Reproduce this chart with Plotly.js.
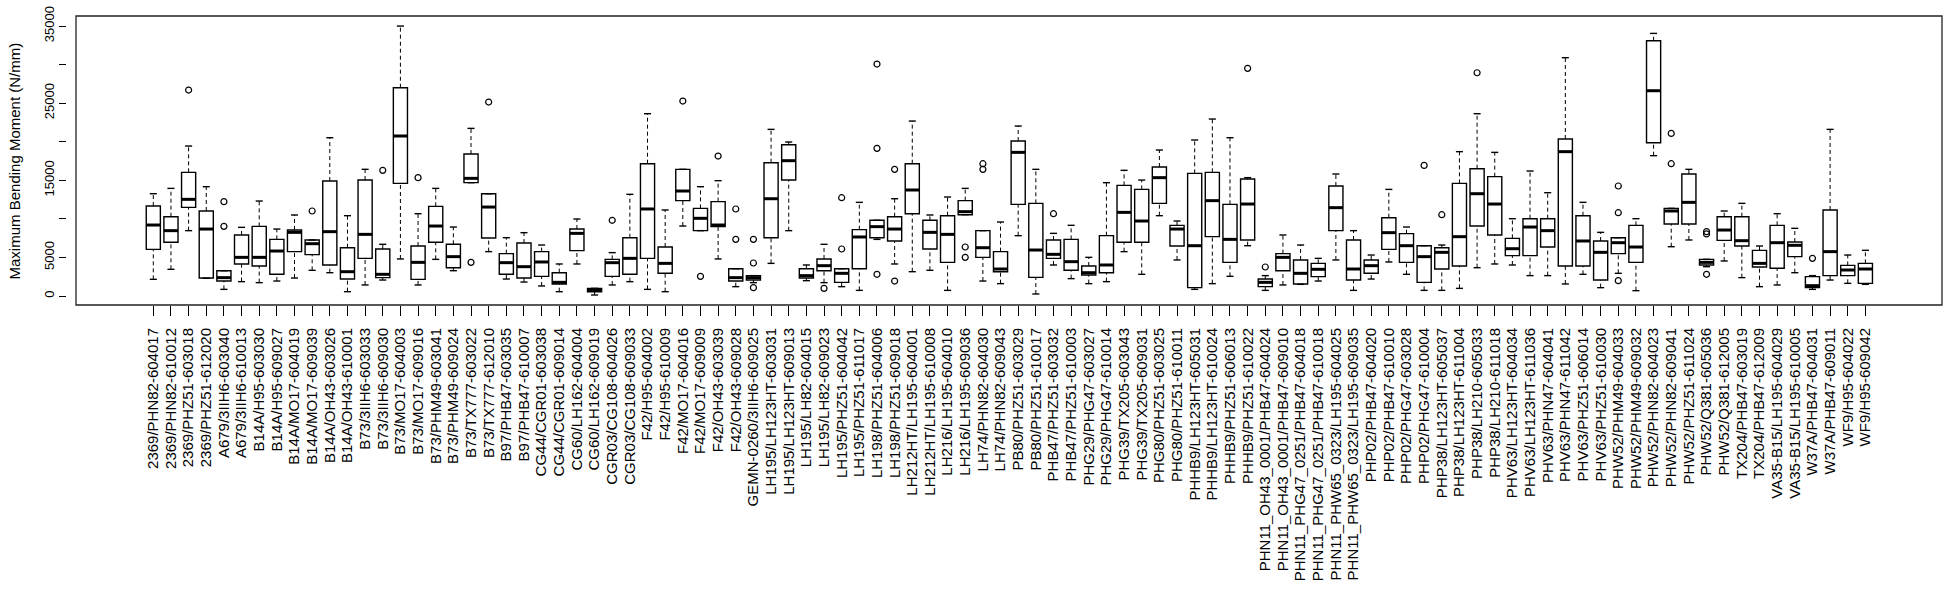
<!DOCTYPE html>
<html><head><meta charset="utf-8">
<script src="https://cdn.plot.ly/plotly-3.0.1.min.js"></script>
<style>html,body{margin:0;padding:0;background:#fff}#chart{width:1949px;height:589px}</style>
</head><body><div id="chart"></div>
<script>
const categories = [
"2369/PHN82-604017","2369/PHN82-610012","2369/PHZ51-603018","2369/PHZ51-612020",
"A679/3IIH6-603040","A679/3IIH6-610013","B14A/H95-603030","B14A/H95-609027",
"B14A/MO17-604019","B14A/MO17-609039","B14A/OH43-603026","B14A/OH43-610001",
"B73/3IIH6-603033","B73/3IIH6-609030","B73/MO17-604003","B73/MO17-609016",
"B73/PHM49-603041","B73/PHM49-609024","B73/TX777-603022","B73/TX777-612010",
"B97/PHB47-603035","B97/PHB47-610007","CG44/CGR01-603038","CG44/CGR01-609014",
"CG60/LH162-604004","CG60/LH162-609019","CGR03/CG108-604026","CGR03/CG108-609033",
"F42/H95-604002","F42/H95-610009","F42/MO17-604016","F42/MO17-609009",
"F42/OH43-603039","F42/OH43-609028","GEMN-0260/3IIH6-609025","LH195/LH123HT-603031",
"LH195/LH123HT-609013","LH195/LH82-604015","LH195/LH82-609023","LH195/PHZ51-604042",
"LH195/PHZ51-611017","LH198/PHZ51-604006","LH198/PHZ51-609018","LH212HT/LH195-604001",
"LH212HT/LH195-610008","LH216/LH195-604010","LH216/LH195-609036","LH74/PHN82-604030",
"LH74/PHN82-609043","PB80/PHZ51-603029","PB80/PHZ51-610017","PHB47/PHZ51-603032",
"PHB47/PHZ51-610003","PHG29/PHG47-603027","PHG29/PHG47-610014","PHG39/TX205-603043",
"PHG39/TX205-609031","PHG80/PHZ51-603025","PHG80/PHZ51-610011","PHHB9/LH123HT-605031",
"PHHB9/LH123HT-610024","PHHB9/PHZ51-606013","PHHB9/PHZ51-610022","PHN11_OH43_0001/PHB47-604024",
"PHN11_OH43_0001/PHB47-609010","PHN11_PHG47_0251/PHB47-604018","PHN11_PHG47_0251/PHB47-610018","PHN11_PHW65_0323/LH195-604025",
"PHN11_PHW65_0323/LH195-609035","PHP02/PHB47-604020","PHP02/PHB47-610010","PHP02/PHG47-603028",
"PHP02/PHG47-610004","PHP38/LH123HT-605037","PHP38/LH123HT-611004","PHP38/LH210-605033",
"PHP38/LH210-611018","PHV63/LH123HT-604034","PHV63/LH123HT-611036","PHV63/PHN47-604041",
"PHV63/PHN47-611042","PHV63/PHZ51-606014","PHV63/PHZ51-610030","PHW52/PHM49-604033",
"PHW52/PHM49-609032","PHW52/PHN82-604023","PHW52/PHN82-609041","PHW52/PHZ51-611024",
"PHW52/Q381-605036","PHW52/Q381-612005","TX204/PHB47-603019","TX204/PHB47-612009",
"VA35-B15/LH195-604029","VA35-B15/LH195-610005","W37A/PHB47-604031","W37A/PHB47-609011",
"WF9/H95-604022","WF9/H95-609042"];

const lowerWhisker = [2160,3460,8470,2290,860,1860,1730,1940,2330,3330,3020,560,1430,2070,4800,1430,4750,3280,14690,5750,
2200,1810,1300,560,4150,130,1430,1860,860,560,9070,8470,4800,1210,1730,4230,8470,1990,1730,1210,
730,7340,4150,3150,3330,730,10540,1940,1600,7820,260,4020,2250,1600,1860,5750,2810,10410,4670,860,
1600,2550,6520,730,1430,1510,1940,4670,730,2200,4410,2810,730,730,990,3670,4150,4020,2640,2640,
1560,2810,1080,2940,690,18190,6390,7260,3800,4540,2380,1210,1430,3020,860,2070,1640,1510];
const q1 = [6050,6960,11490,2330,1940,4150,3890,2810,5750,5360,4020,2200,4880,2380,14600,2160,6960,3670,14690,7520,
2810,2330,2550,1560,5880,560,2550,2810,4880,2940,12360,8470,8990,1940,2070,7560,15030,2330,3280,1770,
3540,7560,7130,10670,6090,4360,10540,5010,3150,11880,2420,4880,3330,2720,3020,6960,6960,12010,6480,1080,
7690,4360,7260,1210,3280,1560,2510,8470,2070,2940,6050,4360,1770,3500,3890,9070,7910,5230,5230,6350,
3890,3890,2070,5490,4360,19870,9330,9330,4020,7210,6480,3760,3590,5100,1080,2640,2640,1640];
const median = [9200,8470,12530,8680,2380,5010,5010,5830,8250,6780,8340,3150,7990,2810,20740,4360,9070,5100,15250,11530,
4320,3800,4410,1770,8120,780,4320,4880,11280,4230,13610,10070,9200,2380,2380,12610,17540,2640,3930,2940,
7650,8990,8680,13740,8250,7990,10930,6260,3500,18620,5960,5400,4450,3020,4020,10840,9720,15340,8680,6520,
12360,7340,11920,1770,5010,2940,3460,11450,3500,3930,8210,6520,5100,5660,7690,13260,11920,6130,8940,8470,
18710,7130,5660,6910,6350,26610,11020,12140,4360,8550,7170,4230,6910,6570,1340,5750,3370,3500];
const q3 = [11660,10280,16030,11020,3280,7910,9030,7340,8550,7260,14900,6260,15030,6090,27000,6480,11620,6700,18400,13260,
5490,6870,5750,3020,8680,990,4750,7560,17150,6350,16420,11360,12230,3540,2640,17280,19610,3540,4800,3540,
8600,9810,10280,17150,9810,10410,12360,8470,5750,20090,12010,7260,7340,3890,7820,14340,13820,16720,9160,15900,
16030,11880,15160,2200,5490,4670,4230,14260,7260,4670,10150,8080,6520,6260,14600,16500,15470,7470,10020,10020,
20350,10410,7130,7560,9160,33090,11360,15810,4750,10280,10280,5920,9160,7000,2510,11150,3970,4230];
const upperWhisker = [13260,13950,19440,14170,3280,8900,12310,8680,10500,7260,20520,10410,16420,6700,34990,10670,13950,8940,21730,13260,
7560,8210,6610,4150,9980,990,5620,13180,23630,11150,16420,14170,14950,3540,2640,21600,19960,4020,6700,3540,
12140,9810,12610,22680,10500,12830,13950,8470,9590,22030,16420,8120,9160,5010,14690,16290,15030,18920,9720,20220,
22940,20520,15340,2640,7910,6610,4880,15810,8470,5310,13820,8940,6520,6610,18710,23630,18620,10020,16200,13390,
30890,12140,8250,7560,10020,34040,11360,16420,4750,11020,12010,6480,10670,8770,2640,21600,5310,5920];

const outlierGroup = [
"2369/PHZ51-603018","A679/3IIH6-603040","A679/3IIH6-603040","B14A/MO17-609039","B73/3IIH6-609030",
"B73/MO17-609016","B73/TX777-603022","B73/TX777-612010","CGR03/CG108-604026","F42/MO17-604016",
"F42/MO17-609009","F42/OH43-603039","F42/OH43-609028","F42/OH43-609028","GEMN-0260/3IIH6-609025",
"GEMN-0260/3IIH6-609025","GEMN-0260/3IIH6-609025","LH195/LH82-609023","LH195/PHZ51-604042","LH195/PHZ51-604042",
"LH198/PHZ51-604006","LH198/PHZ51-604006","LH198/PHZ51-604006","LH198/PHZ51-609018","LH198/PHZ51-609018",
"LH216/LH195-609036","LH216/LH195-609036","LH74/PHN82-604030","LH74/PHN82-604030","PHB47/PHZ51-603032",
"PHHB9/PHZ51-610022","PHN11_OH43_0001/PHB47-604024","PHP02/PHG47-610004","PHP38/LH123HT-605037","PHP38/LH210-605033",
"PHW52/PHM49-604033","PHW52/PHM49-604033","PHW52/PHM49-604033","PHW52/PHN82-609041","PHW52/PHN82-609041",
"PHW52/Q381-605036","PHW52/Q381-605036","PHW52/Q381-605036","W37A/PHB47-604031"];
const outlierValue = [
26700,12230,9030,11020,16290,
15340,4360,25140,9810,25270,
2550,18140,11280,7340,1080,
4280,7340,990,6090,12740,
30070,19140,2810,16420,1940,
6350,5010,17150,16420,10670,
29510,3760,16930,10540,28940,
14260,10800,1990,21080,17150,
8340,8040,2810,4880];

const yTickValues = [0,5000,10000,15000,20000,25000,30000,35000];
const yTickLabels = ["0","5000","","15000","","25000","","35000"];

const idx = categories.map((_, i) => i);
const seg = (pairs) => { const xs=[], ys=[]; pairs.forEach(p=>{xs.push(p[0],p[1],null); ys.push(p[2],p[3],null);}); return {xs, ys}; };

const whisk = seg(idx.flatMap(i => [[i,i,q3[i],upperWhisker[i]],[i,i,lowerWhisker[i],q1[i]]]));
const stap = seg(idx.flatMap(i => [[i-0.2,i+0.2,upperWhisker[i],upperWhisker[i]],[i-0.2,i+0.2,lowerWhisker[i],lowerWhisker[i]]]));
const med = seg(idx.map(i => [i-0.4,i+0.4,median[i],median[i]]));

const traces = [
  {type:'scatter', mode:'lines', x:whisk.xs, y:whisk.ys, line:{color:'#000', width:1, dash:'4px,3px'}, hoverinfo:'skip'},
  {type:'scatter', mode:'lines', x:stap.xs, y:stap.ys, line:{color:'#000', width:1.4}, hoverinfo:'skip'},
  {type:'box', x:idx, q1:q1, median:median, q3:q3, lowerfence:q1, upperfence:q3,
   width:0.8, whiskerwidth:0, fillcolor:'#fff', line:{color:'#000', width:1.4}, boxpoints:false, hoverinfo:'skip'},
  {type:'scatter', mode:'lines', x:med.xs, y:med.ys, line:{color:'#000', width:3}, hoverinfo:'skip'},
  {type:'scatter', mode:'markers', x:outlierGroup.map(c=>categories.indexOf(c)), y:outlierValue,
   marker:{symbol:'circle-open', size:6, color:'#000', line:{width:1.2, color:'#000'}}, hoverinfo:'skip'}
];

const layout = {
  width:1949, height:589,
  margin:{l:66, r:7, t:16, b:284},
  paper_bgcolor:'#fff', plot_bgcolor:'#fff',
  showlegend:false,
  font:{family:'"Liberation Sans", Arial, sans-serif', color:'#000'},
  xaxis:{domain:[0.00533,1], range:[-4.38,101.34], tickmode:'array', tickvals:idx, ticktext:categories,
    tickangle:-90, ticks:'outside', ticklen:10, tickcolor:'#000', tickwidth:1, tickfont:{size:15, color:'#000'},
    ticklabelstandoff:6,
    showgrid:false, zeroline:false, showline:false, automargin:false},
  yaxis:{anchor:'free', position:0, range:[-1167,36296], tickmode:'array', tickvals:yTickValues, ticktext:yTickLabels,
    tickangle:-90, ticks:'outside', ticklen:7, tickcolor:'#000', tickwidth:1, tickfont:{size:13, color:'#000'},
    showgrid:false, zeroline:false, showline:false, automargin:false},
  shapes:[{type:'rect', xref:'x domain', yref:'y domain', x0:0, x1:1, y0:0, y1:1, line:{color:'#222', width:1.3}}],
  annotations:[{text:'Maximum Bending Moment (N/mm)', xref:'paper', yref:'paper', x:-0.0272, y:0.5,
    xanchor:'center', yanchor:'middle', textangle:-90, showarrow:false, font:{size:15, color:'#000'}}]
};

Plotly.newPlot('chart', traces, layout, {staticPlot:true, displayModeBar:false});
</script>
</body></html>
